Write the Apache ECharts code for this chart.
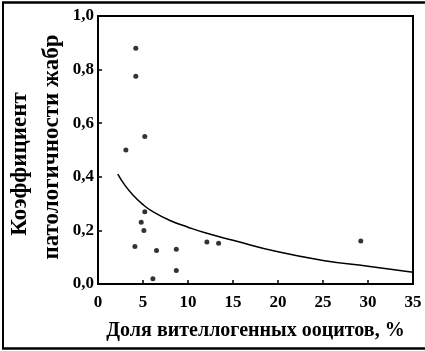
<!DOCTYPE html>
<html><head><meta charset="utf-8">
<script src="https://cdn.jsdelivr.net/npm/echarts@6/dist/echarts.min.js"></script>
<style>html,body{margin:0;padding:0;background:#fff}#c{width:425px;height:351px}</style>
</head><body><div id="c"></div>
<script>
const xTitle = 'Доля вителлогенных ооцитов, %';
const yTitleLine1 = 'Коэффициент';
const yTitleLine2 = 'патологичности жабр';
const pointsX = [4.2, 4.2, 5.2, 3.1, 5.2, 4.8, 5.1, 4.1, 6.5, 8.7, 8.7, 6.1, 12.1, 13.4, 29.2];
const pointsY = [0.88, 0.775, 0.55, 0.50, 0.27, 0.23, 0.20, 0.14, 0.125, 0.13, 0.05, 0.02, 0.157, 0.152, 0.16];
const curveX = [2.2, 3, 4, 5, 6, 8, 10, 12, 15, 20, 25, 30, 35];
const curveY = [0.41, 0.368, 0.328, 0.296, 0.272, 0.237, 0.212, 0.19, 0.163, 0.12, 0.088, 0.066, 0.044];
const xTicks = [0, 5, 10, 15, 20, 25, 30, 35];
const yTicks = ['0,0', '0,2', '0,4', '0,6', '0,8', '1,0'];

const chart = echarts.init(document.getElementById('c'));
const font = 'Liberation Serif';
chart.setOption({
  animation: false,
  grid: {left: 98, right: 12, top: 16, bottom: 67, show: true, borderColor: '#000', borderWidth: 2},
  xAxis: {
    type: 'value', min: 0, max: 35, interval: 5,
    axisLine: {show: false},
    axisTick: {show: true, inside: true, length: 4, lineStyle: {color: '#000', width: 1.5}},
    splitLine: {show: false},
    axisLabel: {color: '#000', fontFamily: font, fontWeight: 'bold', fontSize: 17, margin: 10,
      formatter: v => String(xTicks[xTicks.indexOf(v)])},
    name: xTitle, nameLocation: 'middle', nameGap: 37,
    nameTextStyle: {color: '#000', fontFamily: font, fontSize: 20, fontWeight: 'bold'}
  },
  yAxis: {
    type: 'value', min: 0, max: 1, interval: 0.2,
    axisLine: {show: false},
    axisTick: {show: true, inside: true, length: 4, lineStyle: {color: '#000', width: 1.5}},
    splitLine: {show: false},
    axisLabel: {color: '#000', fontFamily: font, fontWeight: 'bold', fontSize: 17, margin: 4,
      formatter: v => yTicks[Math.round(v / 0.2)]}
  },
  graphic: [
    {type: 'line', shape: {x1: 3, y1: 2, x2: 3, y2: 349}, style: {stroke: '#000', lineWidth: 2}},
    {type: 'line', shape: {x1: 2, y1: 2.5, x2: 425, y2: 2.5}, style: {stroke: '#000', lineWidth: 2.5}},
    {type: 'line', shape: {x1: 2, y1: 348.5, x2: 425, y2: 348.5}, style: {stroke: '#000', lineWidth: 2.5}},
    {type: 'text', x: 20, y: 164, rotation: Math.PI / 2,
      style: {text: yTitleLine1, fill: '#000', font: 'bold 23px "Liberation Serif"', align: 'center', verticalAlign: 'middle'}},
    {type: 'text', x: 52, y: 147, rotation: Math.PI / 2,
      style: {text: yTitleLine2, fill: '#000', font: 'bold 23px "Liberation Serif"', align: 'center', verticalAlign: 'middle'}}
  ],
  series: [
    {type: 'line', data: curveX.map((x, i) => [x, curveY[i]]), smooth: 0.5, showSymbol: false,
      lineStyle: {color: '#000', width: 1.5}},
    {type: 'scatter', data: pointsX.map((x, i) => [x, pointsY[i]]), symbolSize: 5,
      itemStyle: {color: '#000'}}
  ]
});
</script></body></html>
